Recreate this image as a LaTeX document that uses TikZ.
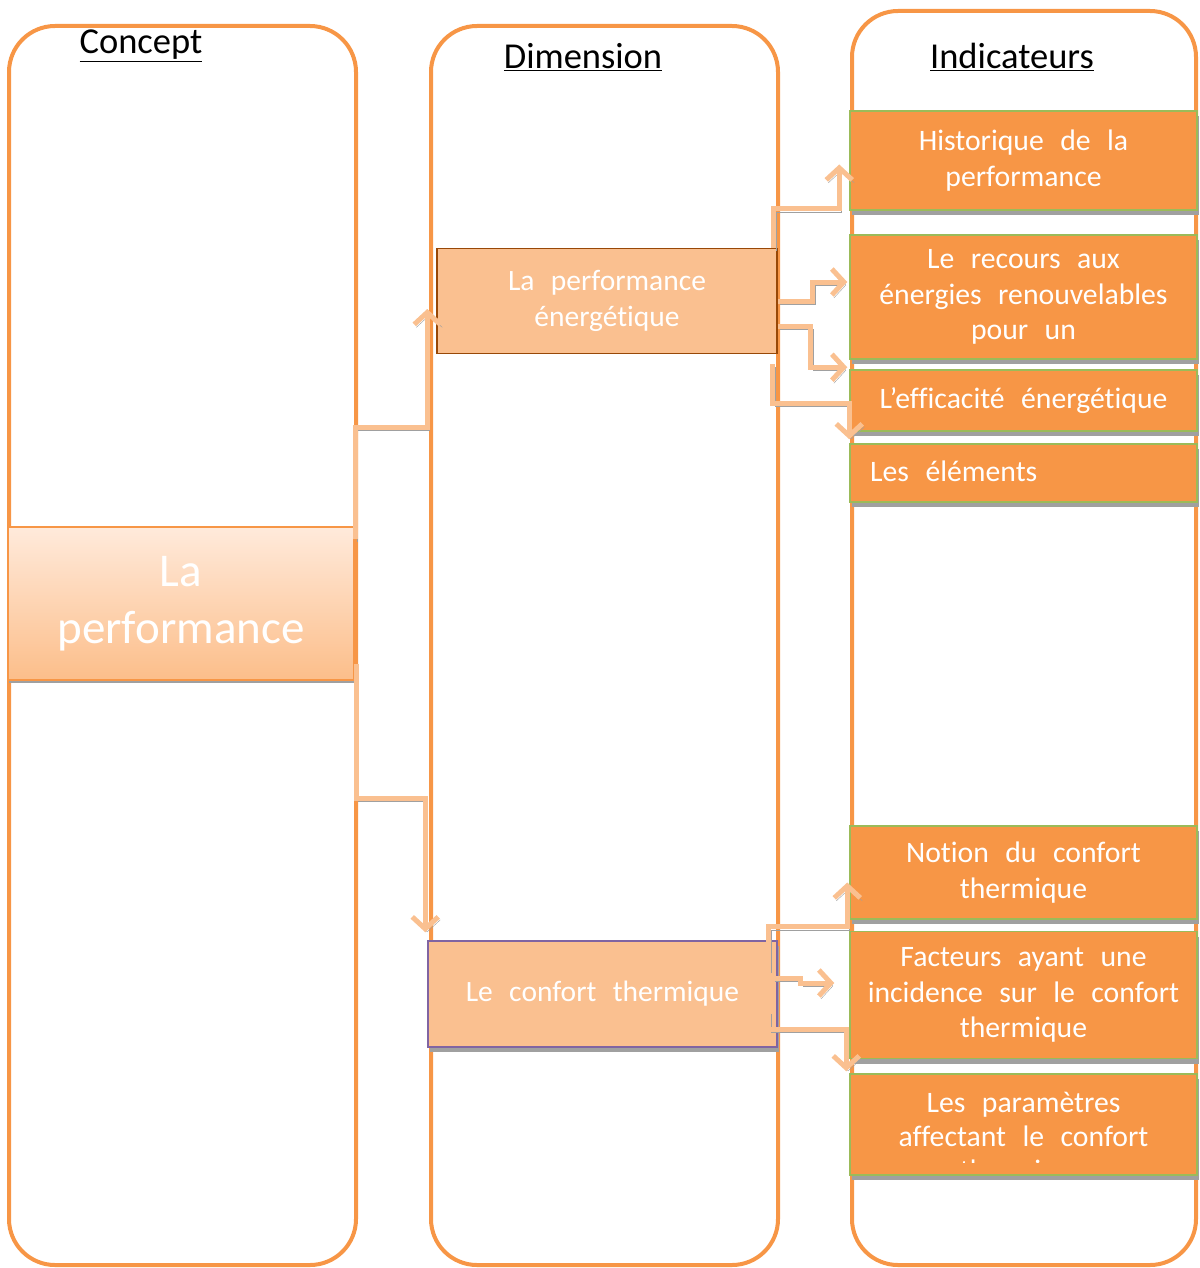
\documentclass[tikz,border=0pt]{standalone}
\usepackage{fontspec}
\setmainfont{Carlito}[Ligatures=NoCommon]
\newfontfamily\widef{Carlito}[WordSpace=2.45,Ligatures=NoCommon]
\usetikzlibrary{arrows.meta,calc,shadows}
\definecolor{org}{HTML}{F79646}
\definecolor{lor}{HTML}{FAC090}
\definecolor{grn}{HTML}{9BBB59}
\definecolor{brn}{HTML}{984807}
\definecolor{prp}{HTML}{8064A2}
\definecolor{shd}{HTML}{A0A0A0}
\definecolor{ptop}{HTML}{FFEADB}
\definecolor{pbot}{HTML}{FCBE8A}
\begin{document}
\begin{tikzpicture}[x=1pt,y=-1pt,
  col/.style={draw=org,line width=4,rounded corners=46},
  title/.style={font=\fontsize{36.5}{40}\selectfont,anchor=center},
  boxshadow/.style={drop shadow={shadow xshift=2pt,shadow yshift=-5pt,fill=shd,opacity=1}},
  indbox/.style={draw=grn,line width=1.5,fill=org,inner sep=0pt,minimum width=347,
     boxshadow,text=white,align=center,font=\widef\fontsize{29.7}{35.5}\selectfont},
  dimbox/.style={line width=1.5,fill=lor,inner sep=0pt,text=white,align=center,
     font=\widef\fontsize{29.5}{36}\selectfont},
  conn/.style={draw=lor,line width=5,-{Straight Barb[length=12,width=26]},
     preaction={draw=shd,transform canvas={xshift=2pt,yshift=-3pt}}}]
\useasboundingbox (0,0) rectangle (1199,1268);
% columns
\draw[col] (9,26) rectangle (356,1265);
\draw[col] (431,26) rectangle (778,1265);
\draw[col] (852,11) rectangle (1196,1265);
% titles
\node[title] (tconcept) at (141,46) {\underline{Concept}};
\node[title] (tdim) at (583,57) {\underline{Dimension}};
\node[title] (tind) at (1012,57) {\underline{Indicateurs}};
% concept box
\node[draw=org,line width=2,top color=ptop,bottom color=pbot,inner sep=0pt,
  minimum width=346,minimum height=153,text=white,align=center,
  font=\fontsize{47}{57}\selectfont,
  drop shadow={shadow xshift=1pt,shadow yshift=-3pt,fill=shd,opacity=1}]
  (perf) at (181,603.5) {La\\performance};
% dimension boxes
\node[dimbox,draw=brn,minimum width=340,minimum height=105] (dim1) at (607,301)
  {La performance\\énergétique};
\node[dimbox,draw=prp,minimum width=349,minimum height=106,boxshadow] (dim2) at (602.5,994)
  {Le confort thermique};
% indicator boxes
\node[indbox,minimum height=99] (ind1) at (1023.5,160.5) {Historique de la\\performance};
\node[indbox,minimum height=124] (ind2) at (1023.5,297) {Le recours aux\\énergies renouvelables\\pour un};
\node[indbox,minimum height=61] (ind3) at (1023.5,400.5) {L’efficacité énergétique};
\node[indbox,minimum height=58] (ind4) at (1023.5,473) {};
\node[anchor=west,text=white,font=\widef\fontsize{29.7}{35}\selectfont,inner sep=0pt] (ind4t) at (870,471) {Les éléments};
\node[indbox,minimum height=93] (ind5) at (1023.5,872.5) {Notion du confort\\thermique};
\node[indbox,minimum height=127] (ind6) at (1023.5,995) {Facteurs ayant une\\incidence sur le confort\\thermique};
\node[indbox,minimum height=101] (ind7) at (1023.5,1124.5) {};
\begin{scope}
  \clip (852,1076) rectangle (1196,1162);
  \node[text=white,align=center,font=\widef\fontsize{29.7}{34}\selectfont,inner sep=0pt] (ind7t) at (1023.5,1139) {Les paramètres\\affectant le confort\\thermique};
\end{scope}
% connectors
\draw[conn] ($(perf.north east)+(0,13)$) |- ($(dim1.south west)+(-9,73)$) -- ($(dim1.west)+(-9,8)$);
\draw[conn] ($(perf.south east)+(1,-17)$) |- ($(dim2.north west)+(-2,-142)$) -- ($(dim2.north west)+(-2,-8)$);
\draw[conn] ($(dim1.north east)+(-4,0)$) |- ($(ind1.south west)+(-10,-2)$) -- ($(ind1.west)+(-10,4)$);
\draw[conn] (dim1.east) -- ++(35,0) |- ($(ind2.west)+(-2,-15)$);
\draw[conn] ($(dim1.east)+(0,25)$) -- ++(33,0) |- ($(ind3.north west)+(-2,-2)$);
\draw[conn] ($(dim1.south east)+(-5,10)$) |- ($(ind3.west)+(0,3)$) -- ($(ind4.north west)+(0,-4)$);
\draw[conn] ($(dim2.north east)+(-9,30)$) |- ($(ind5.south west)+(-2,7)$) -- ($(ind5.west)+(-2,10)$);
\draw[conn] ($(dim2.east)+(-5,-16)$) -- ++(28,0) |- ($(ind6.west)+(-15,-12)$);
\draw[conn] ($(dim2.east)+(-9,17)$) |- ($(ind6.south west)+(-3,-30)$) -- ($(ind7.north west)+(-3,-2)$);
\end{tikzpicture}
\end{document}
